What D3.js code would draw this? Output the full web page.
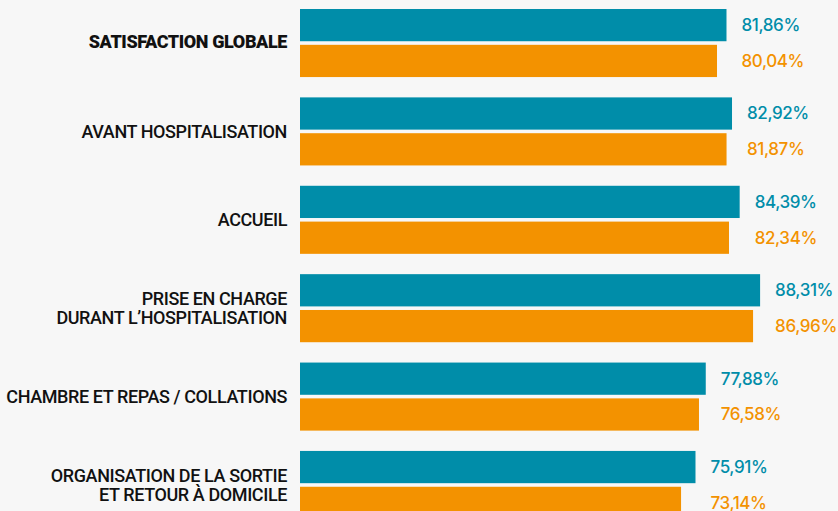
<!DOCTYPE html>
<html>
<head>
<meta charset="utf-8">
<script src="https://cdn.jsdelivr.net/npm/d3@7"></script>
<style>
  html, body { margin: 0; padding: 0; background: #f7f7f7; }
  svg { display: block; }
</style>
</head>
<body>
<script>
// Données du graphique
const categories = [
  "SATISFACTION GLOBALE",
  "AVANT HOSPITALISATION",
  "ACCUEIL",
  "PRISE EN CHARGE\nDURANT L\u2019HOSPITALISATION",
  "CHAMBRE ET REPAS / COLLATIONS",
  "ORGANISATION DE LA SORTIE\nET RETOUR \u00C0 DOMICILE",
];
const series = ["serie1", "serie2"];
const valeursSerie1 = [81.86, 82.92, 84.39, 88.31, 77.88, 75.91];
const valeursSerie2 = [80.04, 81.87, 82.34, 86.96, 76.58, 73.14];
const couleurs = ["#008da9", "#f39200"];

const WIDTH = 838;
const HEIGHT = 511;

const svg = d3.select("body")
  .append("svg")
  .attr("width", WIDTH)
  .attr("height", HEIGHT);

svg.append("rect")
  .attr("width", WIDTH)
  .attr("height", HEIGHT)
  .attr("fill", "#f7f7f7");

// Lignes de données : une par catégorie
const datos = categories.map((c, i) => ({
  categoria: c,
  valores: [valeursSerie1[i], valeursSerie2[i]],
}));

// Échelles
const escalaX = d3.scaleLinear()
  .domain([0, 100])
  .range([300, 821]);

const escalaY = d3.scaleBand()
  .domain(categories)
  .range([9, 519])
  .paddingInner(0.23)
  .paddingOuter(0);

const escalaSerie = d3.scaleBand()
  .domain(series)
  .range([0, escalaY.bandwidth()])
  .paddingInner(0.1);

const grupos = svg.selectAll("g.grupo")
  .data(datos)
  .join("g")
  .attr("class", "grupo")
  .attr("transform", (d) => `translate(0, ${escalaY(d.categoria)})`);

// Barres
grupos.selectAll("rect")
  .data((d) => d.valores.map((v, j) => ({ serie: series[j], valor: v, j: j })))
  .join("rect")
  .attr("x", escalaX(0))
  .attr("y", (d) => escalaSerie(d.serie))
  .attr("width", (d) => escalaX(d.valor) - escalaX(0))
  .attr("height", escalaSerie.bandwidth())
  .attr("fill", (d) => couleurs[d.j]);

// Valeurs à droite des barres
grupos.each(function (d) {
  const xTexte = escalaX(d3.max(d.valores)) + 15;
  d3.select(this).selectAll("text.valor")
    .data(d.valores.map((v, j) => ({ serie: series[j], valor: v, j: j })))
    .join("text")
    .attr("class", "valor")
    .attr("x", xTexte)
    .attr("y", (e) => escalaSerie(e.serie) + escalaSerie.bandwidth() / 2)
    .attr("dy", "0.35em")
    .attr("fill", (e) => couleurs[e.j])
    .attr("font-family", "Inter, 'Open Sans', sans-serif")
    .attr("font-weight", 500)
    .attr("font-size", 17)
    .attr("letter-spacing", -0.4)
    .text((e) => d3.format(".2f")(e.valor).replace(".", ",") + "%");
});

// Libellés des catégories
grupos.append("text")
  .attr("class", "etiqueta")
  .attr("x", 287)
  .attr("text-anchor", "end")
  .attr("fill", "#111")
  .attr("font-family", "Roboto, sans-serif")
  .attr("font-weight", (d, i) => (i === 0 ? 900 : 500))
  .attr("font-size", 18)
  .attr("letter-spacing", -0.4)
  .each(function (d, i) {
    const lineas = d.categoria.split("\n");
    const centro = escalaY.bandwidth() / 2 - (i === 0 ? 2 : 0);
    const alto = 19;
    d3.select(this).selectAll("tspan")
      .data(lineas)
      .join("tspan")
      .attr("x", 287)
      .attr("y", (l, k) => centro + (k - (lineas.length - 1) / 2) * alto)
      .attr("dy", "0.36em")
      .text((l) => l);
  });
</script>
</body>
</html>
